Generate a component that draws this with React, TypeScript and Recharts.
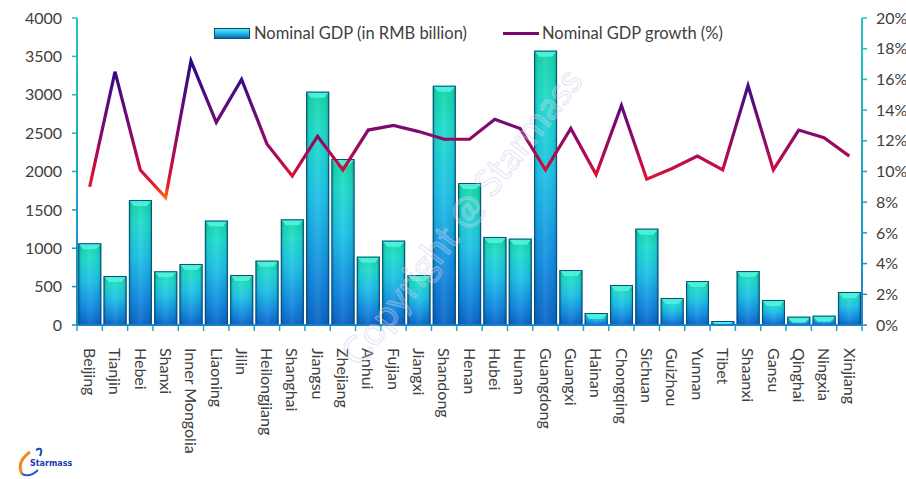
import React from "react";
import { ComposedChart, Bar, Line, XAxis, YAxis } from "recharts";

const categories = [
  "Beijing", "Tianjin", "Hebei", "Shanxi", "Inner Mongolia", "Liaoning", "Jilin",
  "Heilongjiang", "Shanghai", "Jiangsu", "Zhejiang", "Anhui", "Fujian", "Jiangxi",
  "Shandong", "Henan", "Hubei", "Hunan", "Guangdong", "Guangxi", "Hainan",
  "Chongqing", "Sichuan", "Guizhou", "Yunnan", "Tibet", "Shaanxi", "Gansu",
  "Qinghai", "Ningxia", "Xinjiang",
];
const gdpValues = [
  1065, 638, 1628, 700, 795, 1360, 651,
  838, 1377, 3040, 2163, 890, 1099, 651,
  3117, 1850, 1147, 1125, 3574, 716, 156,
  521, 1255, 352, 573, 52, 703, 326,
  108, 121, 430,
];
const growthValues = [
  9.0, 16.5, 10.1, 8.3, 17.2, 13.2, 16.0,
  11.8, 9.7, 12.3, 10.1, 12.7, 13.0, 12.6,
  12.1, 12.1, 13.4, 12.8, 10.1, 12.8, 9.8,
  14.3, 9.5, 10.2, 11.0, 10.1, 15.6, 10.1,
  12.7, 12.2, 11.0,
];
const leftTicks = [0, 500, 1000, 1500, 2000, 2500, 3000, 3500, 4000];
const rightTicks = [0, 2, 4, 6, 8, 10, 12, 14, 16, 18, 20];
const barLabel = "Nominal GDP (in RMB billion)";
const lineLabel = "Nominal GDP growth (%)";

const data = categories.map((name, i) => ({
  name,
  gdp: gdpValues[i],
  growth: growthValues[i],
}));

const FONT = "Lato, 'Open Sans', sans-serif";
const TEXT = "#404040";
const PLOT_TOP = 18;
const PLOT_BOTTOM = 325;
const PLOT_LEFT = 77;
const PLOT_RIGHT = 862;

const BevelBar = (props: any) => {
  const { x, y, width, height } = props;
  if (width == null || height == null || height <= 0) return null;
  const cap = Math.min(6, height);
  const inset = Math.min(5, width / 4);
  return (
    <g>
      <rect x={x} y={y} width={width} height={height} fill="url(#barGrad)" />
      <rect x={x} y={y} width={width} height={height} fill="url(#barShade)" />
      <polygon
        points={`${x},${y} ${x + width},${y} ${x + width - inset},${y + cap} ${x + inset},${y + cap}`}
        fill="#52f2df"
        opacity={0.9}
      />
      <rect
        x={x + 0.5}
        y={y + 0.5}
        width={Math.max(0, width - 1)}
        height={Math.max(0, height - 1)}
        fill="none"
        stroke="#0b4f78"
        strokeWidth={1}
      />
    </g>
  );
};

const XTick = (props: any) => {
  const { x, y, payload, index } = props;
  const half =
    payload && payload.offset ? payload.offset : (PLOT_RIGHT - PLOT_LEFT) / categories.length / 2;
  const last = index === categories.length - 1;
  return (
    <g>
      <line x1={x - half} x2={x - half} y1={y} y2={y + 6} stroke="#1aa6d4" strokeWidth={1.5} />
      {last && (
        <line x1={x + half} x2={x + half} y1={y} y2={y + 6} stroke="#1aa6d4" strokeWidth={1.5} />
      )}
      <text
        x={x}
        y={y + 23}
        dy="0.36em"
        transform={`rotate(90, ${x}, ${y + 23})`}
        textAnchor="start"
        fill={TEXT}
        fontSize={16}
        fontFamily={FONT}
      >
        {payload.value}
      </text>
    </g>
  );
};

const LegendBox = () => (
  <div
    style={{
      position: "absolute",
      left: 214,
      top: 23,
      display: "flex",
      alignItems: "center",
      fontFamily: FONT,
      fontSize: 16.5,
      color: TEXT,
      whiteSpace: "nowrap",
      lineHeight: "20px",
    }}
  >
    <svg width={36} height={11} style={{ display: "block" }}>
      <defs>
        <linearGradient id="legBar" x1="0" y1="0" x2="0" y2="1">
          <stop offset="0%" stopColor="#5cf0f4" />
          <stop offset="50%" stopColor="#22b8e4" />
          <stop offset="100%" stopColor="#0d5ea8" />
        </linearGradient>
      </defs>
      <rect x={0.5} y={0.5} width={35} height={10} fill="url(#legBar)" stroke="#0b4f78" />
    </svg>
    <span style={{ marginLeft: 4 }}>{barLabel}</span>
    <svg width={36} height={11} style={{ display: "block", marginLeft: 36 }}>
      <line x1={0} x2={36} y1={5.5} y2={5.5} stroke="#7a0a6e" strokeWidth={3} />
    </svg>
    <span style={{ marginLeft: 3 }}>{lineLabel}</span>
  </div>
);

export default function App() {
  return (
    <div style={{ position: "absolute", left: 0, top: 0, width: 906, height: 479, background: "#fff" }}>
      <ComposedChart
        width={906}
        height={479}
        data={data}
        margin={{ top: PLOT_TOP, right: 0, bottom: 0, left: 17 }}
        barCategoryGap="5%"
        style={{ fontFamily: FONT }}
      >
        <defs>
          <linearGradient id="barGrad" x1="0" y1="0" x2="0" y2="1">
            <stop offset="0%" stopColor="#14d6a4" />
            <stop offset="18%" stopColor="#1fdcca" />
            <stop offset="45%" stopColor="#1ec2e6" />
            <stop offset="80%" stopColor="#1288e0" />
            <stop offset="100%" stopColor="#0a64c4" />
          </linearGradient>
          <linearGradient id="barShade" x1="0" y1="0" x2="1" y2="0">
            <stop offset="0%" stopColor="#003050" stopOpacity={0.35} />
            <stop offset="14%" stopColor="#003050" stopOpacity={0.05} />
            <stop offset="50%" stopColor="#ffffff" stopOpacity={0.08} />
            <stop offset="86%" stopColor="#003050" stopOpacity={0.05} />
            <stop offset="100%" stopColor="#003050" stopOpacity={0.35} />
          </linearGradient>
          <linearGradient id="axisGrad" gradientUnits="userSpaceOnUse" x1="0" y1={PLOT_TOP} x2="0" y2={PLOT_BOTTOM}>
            <stop offset="0%" stopColor="#22c6c4" />
            <stop offset="100%" stopColor="#1a86cc" />
          </linearGradient>
          <linearGradient id="lineGrad" gradientUnits="userSpaceOnUse" x1="0" y1={PLOT_TOP} x2="0" y2={PLOT_BOTTOM}>
            <stop offset="0%" stopColor="#180a94" />
            <stop offset="15%" stopColor="#2a0a88" />
            <stop offset="30%" stopColor="#640a7a" />
            <stop offset="37%" stopColor="#840a6c" />
            <stop offset="45%" stopColor="#b00a52" />
            <stop offset="50%" stopColor="#d0103c" />
            <stop offset="55%" stopColor="#e6202c" />
            <stop offset="58.5%" stopColor="#ff7010" />
            <stop offset="100%" stopColor="#ff9000" />
          </linearGradient>
        </defs>
        <XAxis
          dataKey="name"
          interval={0}
          height={154}
          tickSize={0}
          tickMargin={0}
          tickLine={false}
          tick={<XTick />}
          axisLine={{ stroke: "#1a7fc8", strokeWidth: 2 }}
        />
        <YAxis
          yAxisId="left"
          orientation="left"
          width={60}
          domain={[0, 4000]}
          ticks={leftTicks}
          interval={0}
          tickSize={5}
          tickMargin={10}
          axisLine={{ stroke: "url(#axisGrad)", strokeWidth: 2 }}
          tickLine={{ stroke: "url(#axisGrad)", strokeWidth: 1.5 }}
          tick={{ fill: TEXT, fontSize: 16, fontFamily: FONT }}
        />
        <YAxis
          yAxisId="right"
          orientation="right"
          width={44}
          domain={[0, 20]}
          ticks={rightTicks}
          interval={0}
          tickSize={5}
          tickMargin={9}
          tickFormatter={(v: number) => `${v}%`}
          axisLine={{ stroke: "url(#axisGrad)", strokeWidth: 2 }}
          tickLine={{ stroke: "url(#axisGrad)", strokeWidth: 1.5 }}
          tick={{ fill: TEXT, fontSize: 16, fontFamily: FONT, textAnchor: "start" }}
        />
        <Bar
          yAxisId="left"
          dataKey="gdp"
          name={barLabel}
          shape={<BevelBar />}
          isAnimationActive={false}
        />
        <Line
          yAxisId="right"
          dataKey="growth"
          name={lineLabel}
          type="linear"
          stroke="url(#lineGrad)"
          strokeWidth={3.2}
          dot={false}
          activeDot={false}
          isAnimationActive={false}
        />
      </ComposedChart>
      <LegendBox />
      <svg
        width={906}
        height={479}
        style={{ position: "absolute", left: 0, top: 0, pointerEvents: "none" }}
      >
        <text
          x={472}
          y={225}
          textAnchor="middle"
          transform="rotate(-52, 472, 225)"
          fontFamily={FONT}
          fontSize={38}
          fill="#ffffff"
          fillOpacity={0.12}
          stroke="#cfc8ec"
          strokeOpacity={0.45}
          strokeWidth={1.3}
        >
          Copyright @ Starmass
        </text>
        <path d="M 30 452 Q 16 462 22 474" fill="none" stroke="#f08a20" strokeWidth={3} />
        <path d="M 36 450 Q 44 446 40 456" fill="none" stroke="#1a4ab8" strokeWidth={2} />
        <path d="M 22 474 Q 30 478 38 470" fill="none" stroke="#2a5ad0" strokeWidth={2} />
        <text x={30} y={466} fontFamily="'DejaVu Sans', sans-serif" fontSize={8} fontWeight="bold" fill="#1a3ab0">
          Starmass
        </text>
      </svg>
    </div>
  );
}
